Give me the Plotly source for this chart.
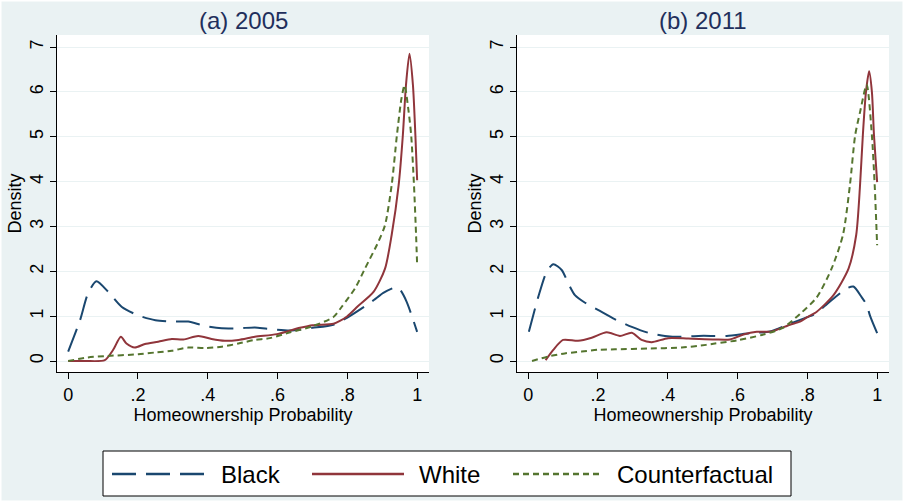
import plotly.graph_objects as go

# ---------------- data ----------------
x_black_2005 = [0.0, 0.034, 0.057, 0.081, 0.115, 0.153, 0.20, 0.25, 0.30, 0.344, 0.392, 0.44, 0.49,
                0.535, 0.57, 0.636, 0.70, 0.76, 0.80, 0.85, 0.876, 0.903, 0.937, 0.95, 0.97, 1.0]
black_2005 = [0.21, 0.91, 1.51, 1.78, 1.54, 1.21, 1.02, 0.91, 0.88, 0.88, 0.78, 0.73, 0.73,
              0.75, 0.72, 0.68, 0.74, 0.81, 0.97, 1.22, 1.36, 1.52, 1.64, 1.60, 1.32, 0.65]

x_white_2005 = [0.0, 0.05, 0.105, 0.129, 0.151, 0.167, 0.191, 0.22, 0.258, 0.297, 0.33, 0.373, 0.411,
                0.449, 0.488, 0.535, 0.598, 0.664, 0.70, 0.76, 0.78, 0.80, 0.83, 0.875, 0.908, 0.927,
                0.947, 0.959, 0.968, 0.978, 0.988, 0.995, 1.0]
white_2005 = [0.0, 0.0, 0.02, 0.25, 0.54, 0.39, 0.30, 0.38, 0.43, 0.49, 0.48, 0.56, 0.49,
              0.45, 0.47, 0.54, 0.60, 0.74, 0.80, 0.83, 0.90, 1.0, 1.22, 1.54, 2.06, 2.81,
              3.92, 5.03, 6.15, 6.85, 6.15, 5.03, 4.03]

x_cf_2005 = [0.0, 0.057, 0.105, 0.201, 0.249, 0.297, 0.344, 0.392, 0.44, 0.488, 0.535, 0.578, 0.636,
             0.698, 0.76, 0.784, 0.822, 0.851, 0.889, 0.908, 0.927, 0.942, 0.955, 0.964, 0.975,
             0.983, 0.991, 0.997, 1.0]
cf_2005 = [0.0, 0.08, 0.11, 0.15, 0.19, 0.23, 0.30, 0.29, 0.32, 0.39, 0.47, 0.51, 0.64,
           0.77, 0.98, 1.21, 1.62, 2.07, 2.66, 3.03, 3.92, 5.03, 5.85, 6.15, 5.60,
           5.03, 3.92, 2.80, 2.14]

x_black_2011 = [0.002, 0.029, 0.053, 0.072, 0.096, 0.115, 0.134, 0.163, 0.20, 0.249, 0.297, 0.344,
                0.392, 0.44, 0.488, 0.535, 0.569, 0.636, 0.693, 0.75, 0.80, 0.817, 0.846, 0.884,
                0.913, 0.932, 0.956, 0.97, 0.98, 1.0]
black_2011 = [0.65, 1.43, 1.99, 2.16, 2.03, 1.73, 1.47, 1.30, 1.14, 0.93, 0.76, 0.63,
              0.56, 0.54, 0.56, 0.56, 0.56, 0.62, 0.66, 0.83, 0.98, 1.03, 1.20, 1.45,
              1.62, 1.66, 1.42, 1.25, 1.00, 0.62]

x_white_2011 = [0.05, 0.072, 0.10, 0.143, 0.182, 0.225, 0.263, 0.297, 0.325, 0.354, 0.401, 0.459,
                0.535, 0.578, 0.617, 0.655, 0.698, 0.75, 0.779, 0.80, 0.827, 0.875, 0.918, 0.940,
                0.951, 0.959, 0.968, 0.977, 0.985, 0.991, 1.0]
white_2011 = [0.02, 0.25, 0.47, 0.45, 0.52, 0.64, 0.56, 0.63, 0.47, 0.42, 0.51, 0.50,
              0.48, 0.48, 0.59, 0.65, 0.66, 0.81, 0.88, 0.98, 1.10, 1.47, 2.06, 2.81,
              3.92, 5.03, 6.00, 6.46, 6.00, 5.03, 3.99]

x_cf_2011 = [0.011, 0.057, 0.105, 0.153, 0.20, 0.249, 0.344, 0.44, 0.51, 0.535, 0.598, 0.674, 0.73,
             0.779, 0.827, 0.870, 0.902, 0.922, 0.937, 0.951, 0.970, 0.985, 0.993, 1.0]
cf_2011 = [0.0, 0.10, 0.17, 0.21, 0.25, 0.26, 0.28, 0.30, 0.36, 0.39, 0.46, 0.59, 0.74,
           1.05, 1.42, 2.07, 2.81, 3.92, 5.03, 5.55, 6.16, 5.03, 3.92, 2.58]

panel_titles = ["(a) 2005", "(b) 2011"]
series_names = ["Black", "White", "Counterfactual"]
x_tickvals = [0, 0.2, 0.4, 0.6, 0.8, 1.0]
x_ticktext = ["0", ".2", ".4", ".6", ".8", "1"]
y_tickvals = [0, 1, 2, 3, 4, 5, 6, 7]
y_ticktext = ["0", "1", "2", "3", "4", "5", "6", "7"]

# ---------------- styling ----------------
W, H = 904, 502
FONT = "Liberation Sans, Arial, Helvetica, sans-serif"
BG = "#EAF2F3"
colors = {"Black": "#1a476f", "White": "#90353b", "Counterfactual": "#55752f"}
dashes = {"Black": "24px,10px", "White": "solid", "Counterfactual": "6px,4px"}


def px_x(p):
    return p / W


def px_y(p):
    return 1 - p / H


fig = go.Figure()

panel_data = [
    [(x_black_2005, black_2005), (x_white_2005, white_2005), (x_cf_2005, cf_2005)],
    [(x_black_2011, black_2011), (x_white_2011, white_2011), (x_cf_2011, cf_2011)],
]
axis_ids = [("x", "y"), ("x2", "y2")]

for (xa, ya), series in zip(axis_ids, panel_data):
    for name, (xs, ys) in zip(series_names, series):
        fig.add_trace(go.Scatter(
            x=xs, y=ys, mode="lines", name=name, xaxis=xa, yaxis=ya,
            line=dict(color=colors[name], width=2, dash=dashes[name],
                      shape="spline", smoothing=0.7),
            showlegend=False,
        ))

x_domains = [[57 / W, 429 / W], [517 / W, 889 / W]]
y_domain = [px_y(372), px_y(35)]

common_x = dict(
    range=[-0.032, 1.034], tickvals=x_tickvals, ticktext=x_ticktext,
    ticks="outside", ticklen=6, tickcolor="black", tickwidth=1,
    showline=True, linecolor="black", linewidth=1, mirror=False,
    showgrid=False, zeroline=False,
    tickfont=dict(family=FONT, size=18, color="black"),
    title=dict(text="Homeownership Probability", font=dict(family=FONT, size=18, color="black"),
               standoff=1),
)
common_y = dict(
    range=[-0.245, 7.27], tickvals=y_tickvals, ticktext=y_ticktext, tickangle=-90,
    ticks="outside", ticklen=6, tickcolor="black", tickwidth=1,
    showline=True, linecolor="black", linewidth=1, mirror=False,
    showgrid=True, gridcolor=BG, gridwidth=1, zeroline=False,
    tickfont=dict(family=FONT, size=18, color="black"),
    title=dict(text="Density", font=dict(family=FONT, size=18, color="black"), standoff=0),
    domain=y_domain,
)

fig.update_layout(
    width=W, height=H,
    margin=dict(l=0, r=0, t=0, b=0),
    paper_bgcolor=BG, plot_bgcolor="white",
    showlegend=False,
    font=dict(family=FONT, color="black"),
    xaxis=dict(common_x, domain=x_domains[0], anchor="y"),
    yaxis=dict(common_y, anchor="x"),
    xaxis2=dict(common_x, domain=x_domains[1], anchor="y2"),
    yaxis2=dict(common_y, anchor="x2"),
)

annotations = []
for title, dom in zip(panel_titles, x_domains):
    annotations.append(dict(
        text=title, x=(dom[0] + dom[1]) / 2, y=px_y(21), xref="paper", yref="paper",
        xanchor="center", yanchor="middle", showarrow=False,
        font=dict(family=FONT, size=24, color="#1f2f5c"),
    ))

# legend drawn as a boxed key below the panels
shapes = [
    dict(type="rect", xref="paper", yref="paper", x0=0, x1=1, y0=0, y1=1,
         line=dict(color="white", width=3), fillcolor="rgba(0,0,0,0)", layer="above"),
    dict(type="rect", xref="paper", yref="paper", x0=px_x(103), x1=px_x(791),
         y0=px_y(496), y1=px_y(451), line=dict(color="black", width=1), fillcolor="white",
         layer="below"),
]
legend_lines = [(112, 204, 219), (312, 404, 417), (513, 601, 615)]
for name, (x0, x1, tx) in zip(series_names, legend_lines):
    shapes.append(dict(type="line", xref="paper", yref="paper", x0=px_x(x0), x1=px_x(x1),
                       y0=px_y(474), y1=px_y(474),
                       line=dict(color=colors[name], width=2.5, dash=dashes[name])))
    annotations.append(dict(
        text=name, x=px_x(tx), y=px_y(474), xref="paper", yref="paper",
        xanchor="left", yanchor="middle", showarrow=False,
        font=dict(family=FONT, size=24, color="black"),
    ))

fig.update_layout(annotations=annotations, shapes=shapes)
fig.write_html("out.html")
